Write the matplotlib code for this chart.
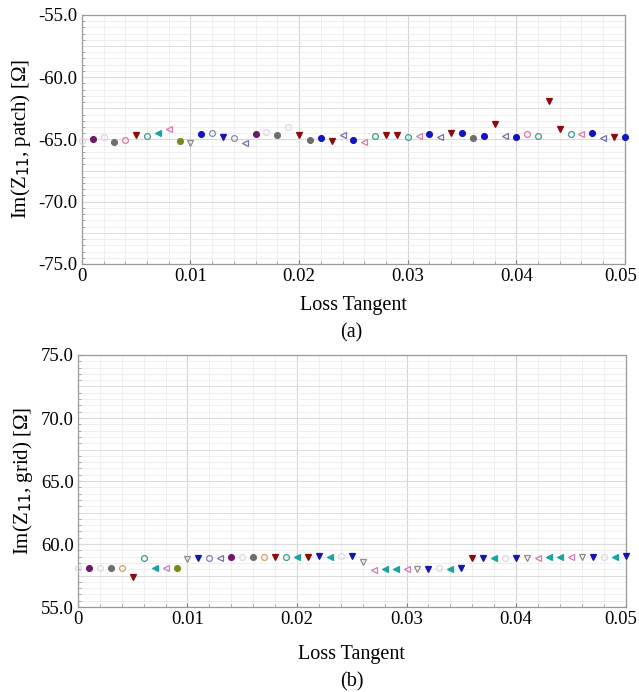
import numpy as np
import matplotlib
matplotlib.use("Agg")
import matplotlib.pyplot as plt
from matplotlib.ticker import MultipleLocator, FormatStrFormatter
from matplotlib.transforms import ScaledTranslation

plt.rcParams['font.family'] = ['Liberation Serif', 'DejaVu Serif']

# loss tangent sweep
loss_tan = [i * 0.001 for i in range(51)]
x_ticks = [0, 0.01, 0.02, 0.03, 0.04, 0.05]
x_labels = ['0', '0.01', '0.02', '0.03', '0.04', '0.05']

# Im(Z11, patch) [ohm]
im_patch = [-65.1, -65.0, -64.8, -65.2, -65.05, -64.65, -64.7, -64.5, -64.2, -65.1,
            -65.3, -64.6, -64.5, -64.8, -64.9, -65.3, -64.6, -64.4, -64.65, -64.0,
            -64.65, -65.05, -64.85, -65.1, -64.65, -65.05, -65.2, -64.7, -64.65, -64.65,
            -64.8, -64.7, -64.6, -64.8, -64.5, -64.5, -64.9, -64.7, -63.75, -64.7,
            -64.8, -64.55, -64.7, -61.95, -64.2, -64.55, -64.55, -64.5, -64.9, -64.8,
            -64.8]
patch_kind = ['lt', 'pc', 'lt', 'gc', 'po', 'rv', 'to', 'tl', 'pl', 'oc',
              'gv', 'bc', 'go', 'bv', 'go', 'sl', 'pc', 'lt', 'gc', 'lt',
              'rv', 'gc', 'bc', 'rv', 'sl', 'bc', 'pl', 'to', 'rv', 'rv',
              'to', 'pl', 'bc', 'sl', 'rv', 'bc', 'gc', 'bc', 'rv', 'sl',
              'bc', 'po', 'to', 'rv', 'rv', 'to', 'pl', 'bc', 'sl', 'rv',
              'bc']

# Im(Z11, grid) [ohm]
im_grid = [58.13, 58.13, 58.1, 58.13, 58.1, 57.4, 58.9, 58.1, 58.1, 58.13,
           58.85, 58.9, 58.9, 58.9, 58.93, 59.0, 59.0, 59.0, 59.0, 59.0,
           59.0, 59.0, 59.05, 59.0, 59.05, 59.06, 58.6, 57.9, 58.0, 58.0,
           58.0, 58.0, 58.0, 58.1, 58.0, 58.1, 58.9, 58.9, 58.9, 58.9,
           58.9, 58.9, 58.9, 59.0, 59.0, 59.0, 59.0, 59.0, 59.0, 59.0,
           59.06]
grid_kind = ['lt', 'pc', 'lt', 'gc', 'oo', 'rv', 'to', 'tl', 'pl', 'oc',
             'gv', 'bv', 'sc', 'sl', 'pc', 'lt', 'gc', 'oo', 'rv', 'to',
             'tl', 'rv', 'bv', 'tl', 'lt', 'bv', 'gv', 'pl', 'tl', 'tl',
             'pl', 'gv', 'bv', 'lt', 'tl', 'bv', 'rv', 'bv', 'tl', 'lt',
             'bv', 'gv', 'pl', 'tl', 'tl', 'pl', 'gv', 'bv', 'lt', 'tl',
             'bv']

# marker style per kind: (marker, color, filled)
styles = {
    'pc': ('o', '#6b1a6b', True),
    'lt': ('o', '#e2d6e2', False),
    'gc': ('o', '#6e6e6e', True),
    'po': ('o', '#d47aa4', False),
    'rv': ('v', '#8b0a0a', True),
    'to': ('o', '#3a9e88', False),
    'tl': ('<', '#1aa3a3', True),
    'pl': ('<', '#d47ab4', False),
    'oc': ('o', '#7a8a14', True),
    'gv': ('v', '#8c8c8c', False),
    'bc': ('o', '#1414c4', True),
    'bv': ('v', '#1414b4', True),
    'sl': ('<', '#7272a4', False),
    'oo': ('o', '#e0a060', False),
    'go': ('o', '#8090a0', False),
    'sc': ('o', '#8080b0', False),
}


def draw(ax, xs, ys, kinds):
    for x, y, k in zip(xs, ys, kinds):
        m, c, filled = styles[k]
        ax.plot(x, y, linestyle='none', marker=m, markersize=4.2,
                markeredgecolor=c, markerfacecolor=c if filled else 'none',
                markeredgewidth=0.9, zorder=3, clip_on=False)


def style_axes(ax, ylo, yhi):
    ax.set_xlim(0, 0.05)
    ax.set_ylim(ylo, yhi)
    ax.set_xticks(x_ticks, x_labels)
    ax.xaxis.set_minor_locator(MultipleLocator(0.002))
    ax.yaxis.set_major_locator(MultipleLocator(5))
    ax.yaxis.set_minor_locator(MultipleLocator(0.5))
    ax.yaxis.set_major_formatter(FormatStrFormatter('%.1f'))
    ax.grid(True, which='major', color='#d4d4d4', linewidth=0.8)
    ax.grid(True, which='minor', color='#ededed', linewidth=0.6)
    for y in np.arange(ylo, yhi, 2.5):
        ax.axhline(y, color='#dcdcdc', linewidth=0.7, zorder=1)
    ax.set_axisbelow(True)
    for s in ax.spines.values():
        s.set_color('#9a9a9a')
        s.set_linewidth(0.9)
    ax.tick_params(axis='both', which='major', labelsize=13.5, length=3,
                   direction='in', color='#7a7a7a', pad=3)
    ax.tick_params(axis='both', which='minor', length=2, direction='in', color='#9a9a9a')
    # keep the last x label inside the figure, as in the original
    last = ax.get_xticklabels()[-1]
    last.set_transform(last.get_transform() + ScaledTranslation(-0.045, 0, fig.dpi_scale_trans))


fig = plt.figure(figsize=(6.39, 6.92), dpi=100)

ax1 = fig.add_axes([0.128, 0.6185, 0.850, 0.360])
draw(ax1, loss_tan, im_patch, patch_kind)
style_axes(ax1, -75, -55)
ax1.set_ylabel(r'Im(Z$_{11}$, patch) [Ω]', fontsize=15, labelpad=4)
ax1.set_xlabel('Loss Tangent', fontsize=14.5, labelpad=8)
fig.text(0.55, 1 - 333 / 692, '(a)', ha='center', va='center', fontsize=14.5)

ax2 = fig.add_axes([0.1220, 0.1228, 0.857, 0.3642])
draw(ax2, loss_tan, im_grid, grid_kind)
style_axes(ax2, 55, 75)
ax2.set_ylabel(r'Im(Z$_{11}$, grid) [Ω]', fontsize=15, labelpad=4)
ax2.set_xlabel('Loss Tangent', fontsize=14.5, labelpad=12)
fig.text(0.55, 1 - 682 / 692, '(b)', ha='center', va='center', fontsize=14.5)

fig.savefig('out.png', dpi=100)
